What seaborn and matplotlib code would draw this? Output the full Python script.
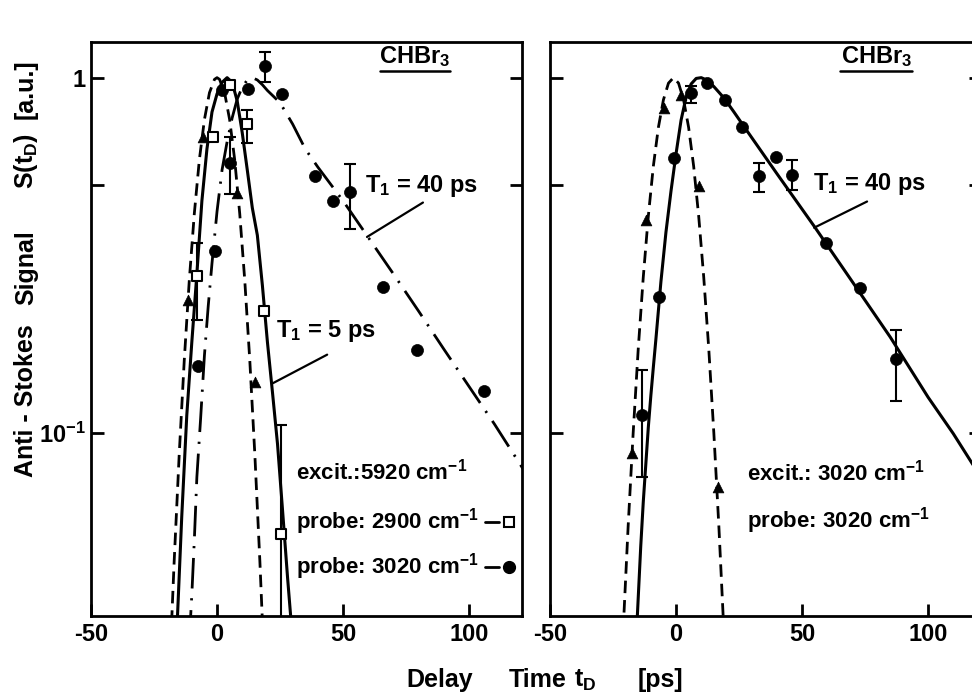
import numpy as np
import pandas as pd
import matplotlib
matplotlib.use('Agg')
import matplotlib.pyplot as plt
import seaborn as sns
from matplotlib import font_manager as fm
from matplotlib.ticker import FixedLocator, FixedFormatter, NullLocator

# ---------------- data ----------------
# Left panel: excitation 5920 cm-1
# cross-correlation (dashed)
L_dash_x = [-19, -17, -15, -13, -11, -9, -7, -5, -3, -1, 0, 1, 3, 5, 7, 9, 11, 13, 15, 17, 19]
L_dash_y = [0.020, 0.0435, 0.087, 0.160, 0.269, 0.415, 0.588, 0.762, 0.907, 0.989, 1.0,
            0.989, 0.907, 0.762, 0.588, 0.415, 0.269, 0.160, 0.087, 0.0435, 0.020]
# T1 = 5 ps fit, probe 2900 (solid)
L_solid_x = [-16, -14, -12, -10, -8, -6, -4, -2, 0, 2, 4, 6, 8, 10, 12, 14, 16, 18, 20, 22, 24, 26, 28, 30]
L_solid_y = [0.027, 0.058, 0.112, 0.18, 0.28, 0.45, 0.63, 0.80, 0.90, 0.97, 1.0, 0.97, 0.86, 0.70,
             0.55, 0.43, 0.36, 0.26, 0.18, 0.13, 0.093, 0.0605, 0.039, 0.026]
# T1 = 40 ps fit, probe 3020 (dash-dot)
L_dd_x = [-11, -10, -9, -8, -6.5, -5, -3.5, -2, 0, 2, 4, 6, 8, 10, 12, 14, 16, 18, 20, 25, 30, 35,
          40, 50, 60, 70, 80, 90, 100, 110, 122]
L_dd_y = [0.026, 0.035, 0.05, 0.075, 0.11, 0.165, 0.227, 0.30, 0.42, 0.55, 0.66, 0.77, 0.87, 0.94,
          0.985, 1.0, 0.985, 0.955, 0.92, 0.85, 0.74, 0.63, 0.56, 0.45, 0.355, 0.28, 0.22, 0.172,
          0.135, 0.106, 0.078]
# measured points
L_circ_x = [-7.4, -0.8, 1.9, 5.2, 12.4, 19.0, 25.7, 38.9, 45.9, 52.8, 65.7, 79.2, 106.0]
L_circ_y = [0.154, 0.324, 0.925, 0.575, 0.93, 1.076, 0.90, 0.53, 0.45, 0.478, 0.257, 0.171, 0.131]
L_sq_x = [-7.8, -1.5, 5.2, 12.0, 18.7, 25.3]
L_sq_y = [0.277, 0.68, 0.955, 0.74, 0.22, 0.052]
L_tri_x = [-11.4, -5.7, 7.8, 15.1]
L_tri_y = [0.237, 0.68, 0.474, 0.139]
# error bars (x, value, low, high)
L_err_x = [19.0, 52.8, 5.2, 12.0, 25.3, -7.8]
L_err_y = [1.076, 0.478, 0.575, 0.74, 0.052, 0.277]
L_err_lo = [0.97, 0.376, 0.47, 0.656, 0.02, 0.208]
L_err_hi = [1.18, 0.573, 0.68, 0.81, 0.105, 0.343]

# Right panel: excitation 3020 cm-1, probe 3020 cm-1
R_dash_x = [-21, -19, -17, -15, -13, -11, -9, -7, -5, -3, -1, 1, 3, 5, 7, 9, 11, 13, 15, 17, 19]
R_dash_y = [0.0275, 0.0545, 0.100, 0.172, 0.274, 0.407, 0.563, 0.724, 0.866, 0.965, 1.0,
            0.965, 0.866, 0.724, 0.563, 0.407, 0.274, 0.172, 0.100, 0.0545, 0.0275]
R_solid_x = [-16, -15, -14, -13, -12, -11, -10, -9, -8, -6, -4, -2, 0, 2, 4, 6, 8, 10, 12, 15, 19,
             23, 28, 40, 55, 70, 85, 100, 110, 122]
R_solid_y = [0.0245, 0.0343, 0.0479, 0.0638, 0.0813, 0.1035, 0.127, 0.153, 0.183, 0.266, 0.367,
             0.479, 0.61, 0.759, 0.881, 0.96, 0.995, 1.0, 0.986, 0.944, 0.877, 0.80, 0.711, 0.537,
             0.38, 0.266, 0.186, 0.126, 0.0995, 0.073]
R_circ_x = [-13.4, -6.7, -0.8, 5.8, 12.4, 19.3, 26.1, 32.9, 39.6, 46.2, 59.6, 72.9, 87.2]
R_circ_y = [0.112, 0.241, 0.594, 0.906, 0.966, 0.867, 0.726, 0.527, 0.598, 0.533, 0.342, 0.256, 0.161]
R_tri_x = [-17.3, -12.0, -4.8, 1.8, 9.1, 16.8]
R_tri_y = [0.0877, 0.398, 0.82, 0.895, 0.494, 0.0706]
R_err_x = [-13.4, 5.8, 32.9, 46.2, 87.2]
R_err_y = [0.112, 0.906, 0.527, 0.533, 0.161]
R_err_lo = [0.0753, 0.848, 0.478, 0.483, 0.123]
R_err_hi = [0.150, 0.945, 0.575, 0.585, 0.195]

x_ticks = [-50, 0, 50, 100]
y_ticks = [0.1, 0.5, 1]
y_ticklabels = [r'$10^{-1}$', '', '1']

# ---------------- style ----------------
sns.set_style('ticks')


def pick(names):
    for n in names:
        try:
            fm.findfont(fm.FontProperties(family=n), fallback_to_default=False)
            return n
        except Exception:
            pass
    return 'DejaVu Sans'


FONT = pick(['Liberation Sans Narrow', 'DejaVu Sans Condensed', 'Liberation Sans'])
plt.rcParams['font.family'] = [FONT, 'DejaVu Sans']
plt.rcParams['font.weight'] = 'bold'
plt.rcParams['mathtext.fontset'] = 'custom'
plt.rcParams['mathtext.rm'] = f'{FONT}:bold'
plt.rcParams['mathtext.it'] = f'{FONT}:bold'
plt.rcParams['mathtext.bf'] = f'{FONT}:bold'
plt.rcParams['mathtext.default'] = 'rm'
plt.rcParams['axes.unicode_minus'] = False
for k in ['text.color', 'axes.labelcolor', 'xtick.color', 'ytick.color', 'axes.edgecolor']:
    plt.rcParams[k] = 'black'

FS_TICK = 17
FS = 17
FS_LEG = 16
FS_AX = 18
DASH = (0, (4.5, 2.5))
DASHDOT = (0, (11, 3.5, 0.8, 3.5))

fig = plt.figure(figsize=(9.72, 6.93), dpi=100)
axL = fig.add_axes([91 / 972, 77 / 693, 431 / 972, 574 / 693])
axR = fig.add_axes([550 / 972, 77 / 693, 431 / 972, 574 / 693])

for ax in (axL, axR):
    ax.set_yscale('log')
    ax.set_xlim(-50, 121)
    ax.set_ylim(0.0305, 1.26)
    ax.yaxis.set_major_locator(FixedLocator(y_ticks))
    ax.yaxis.set_minor_locator(NullLocator())
    ax.xaxis.set_major_locator(FixedLocator(x_ticks))
    ax.xaxis.set_minor_locator(NullLocator())
    ax.tick_params(axis='both', direction='in', length=9, width=2, top=False, right=True,
                   labelsize=FS_TICK, color='black', labelcolor='black')
    ax.tick_params(axis='x', pad=5)
    ax.tick_params(axis='y', pad=4)
    for s in ax.spines.values():
        s.set_linewidth(2)
        s.set_color('black')

axL.yaxis.set_major_formatter(FixedFormatter(y_ticklabels))
axR.tick_params(axis='y', labelleft=False)


def curve(ax, xs, ys, ls, lw=2.2):
    sns.lineplot(x=xs, y=ys, ax=ax, color='black', lw=lw, linestyle=ls,
                 estimator=None, sort=False, legend=False, zorder=2)


def points(ax, xs, ys, marker, s, face):
    sns.scatterplot(x=xs, y=ys, ax=ax, marker=marker, s=s, color=face, edgecolor='black',
                    linewidth=1.5 if face == 'white' else 0.5, legend=False, zorder=5)


def errs(ax, xs, ys, lo, hi):
    ys = np.asarray(ys)
    ax.errorbar(xs, ys, yerr=[ys - np.asarray(lo), np.asarray(hi) - ys], fmt='none',
                ecolor='black', elinewidth=1.5, capsize=4, capthick=1.5, zorder=4)


# left panel
curve(axL, L_dash_x, L_dash_y, DASH, lw=2.0)
curve(axL, L_solid_x, L_solid_y, '-')
curve(axL, L_dd_x, L_dd_y, DASHDOT, lw=2.0)
errs(axL, L_err_x, L_err_y, L_err_lo, L_err_hi)
points(axL, L_circ_x, L_circ_y, 'o', 75, 'black')
points(axL, L_tri_x, L_tri_y, '^', 60, 'black')
points(axL, L_sq_x, L_sq_y, 's', 42, 'white')

# right panel
curve(axR, R_dash_x, R_dash_y, DASH, lw=2.0)
curve(axR, R_solid_x, R_solid_y, '-')
errs(axR, R_err_x, R_err_y, R_err_lo, R_err_hi)
points(axR, R_circ_x, R_circ_y, 'o', 75, 'black')
points(axR, R_tri_x, R_tri_y, '^', 60, 'black')

for ax in (axL, axR):
    ax.set_xlabel('')
    ax.set_ylabel('')

# ---------------- annotations ----------------
# CHBr3 labels (underlined)
axL.text(0.752, 0.9634, r'CHBr$_3$', transform=axL.transAxes, ha='center', va='baseline', fontsize=FS)
axL.plot([0.671, 0.833], [0.9495, 0.9495], transform=axL.transAxes, color='black', lw=1.8)
axR.text(0.757, 0.9634, r'CHBr$_3$', transform=axR.transAxes, ha='center', va='baseline', fontsize=FS)
axR.plot([0.673, 0.840], [0.9495, 0.9495], transform=axR.transAxes, color='black', lw=1.8)

# T1 labels with leader lines
axL.text(81.3, 0.496, r'T$_1$ = 40 ps', ha='center', va='center', fontsize=FS)
axL.annotate('', xy=(59.5, 0.356), xytext=(81.7, 0.445),
             arrowprops=dict(arrowstyle='-', lw=1.6, color='black', shrinkA=0, shrinkB=0))
axL.text(43.3, 0.193, r'T$_1$ = 5 ps', ha='center', va='center', fontsize=FS)
axL.annotate('', xy=(22.2, 0.138), xytext=(43.7, 0.166),
             arrowprops=dict(arrowstyle='-', lw=1.6, color='black', shrinkA=0, shrinkB=0))
axR.text(76.6, 0.503, r'T$_1$ = 40 ps', ha='center', va='center', fontsize=FS)
axR.annotate('', xy=(54.8, 0.378), xytext=(75.8, 0.448),
             arrowprops=dict(arrowstyle='-', lw=1.6, color='black', shrinkA=0, shrinkB=0))

# in-panel legends
axL.text(31.5, 0.0776, r'excit.:5920 cm$^{-1}$', ha='left', va='center', fontsize=FS_LEG)
axL.text(31.5, 0.0561, r'probe: 2900 cm$^{-1}$', ha='left', va='center', fontsize=FS_LEG)
axL.text(31.5, 0.0420, r'probe: 3020 cm$^{-1}$', ha='left', va='center', fontsize=FS_LEG)
axL.plot([0.915, 0.947], [0.1638, 0.1638], transform=axL.transAxes, color='black', lw=2)
axL.plot([0.970], [0.1638], transform=axL.transAxes, marker='s', ms=6.5, mfc='white',
         mec='black', mew=1.5, ls='none')
axL.plot([0.915, 0.947], [0.0854, 0.0854], transform=axL.transAxes, color='black', lw=2)
axL.plot([0.970], [0.0854], transform=axL.transAxes, marker='o', ms=8.5, mfc='black',
         mec='black', ls='none')

axR.text(28.2, 0.0773, r'excit.: 3020 cm$^{-1}$', ha='left', va='center', fontsize=FS_LEG)
axR.text(28.2, 0.0566, r'probe: 3020 cm$^{-1}$', ha='left', va='center', fontsize=FS_LEG)

# axis titles (spaced words as in the original)
for word, yc in [('Anti - Stokes', 401), ('Signal', 268), (r'S(t$_D$)', 161), ('[a.u.]', 89)]:
    fig.text(26 / 972, (693 - yc) / 693, word, rotation=90, ha='center', va='center', fontsize=FS_AX)
for word, xc in [('Delay', 440), ('Time', 538), (r't$_D$', 585), ('[ps]', 660)]:
    fig.text(xc / 972, (693 - 687) / 693, word, ha='center', va='baseline', fontsize=FS_AX)

fig.savefig('out.png', dpi=100)
